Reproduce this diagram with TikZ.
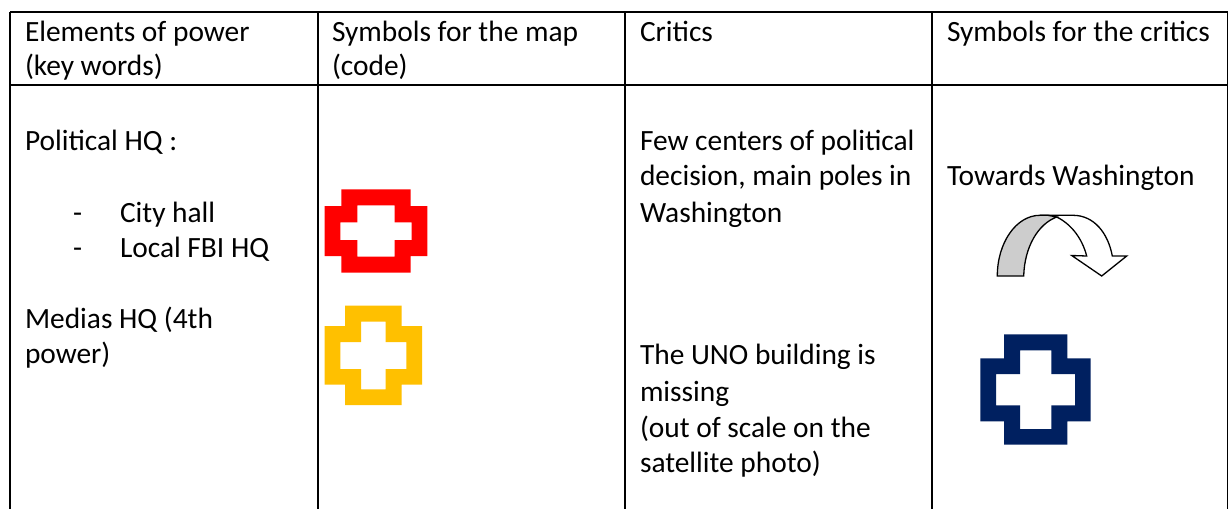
\documentclass[tikz,border=0pt]{standalone}
\usepackage{fontspec}
\setmainfont{Carlito}
\definecolor{crossred}{HTML}{FF0000}
\definecolor{crossyellow}{HTML}{FFC000}
\definecolor{crossnavy}{HTML}{002060}
\definecolor{arrowgray}{HTML}{CDCDCD}
\tikzset{
  rule/.style={line width=2pt,black},
  txt/.style={anchor=base west,inner sep=0pt,outer sep=0pt,font=\fontsize{29.4pt}{35pt}\selectfont,text=black},
  crossfill/.style={even odd rule,draw=none},
  arrowline/.style={draw=black,line width=1.3pt,line join=miter}
}
\newcommand{\crossshape}[8]{% outer x0 x1 x2 x3, y0 y1 y2 y3
  (#1,#6) -- (#2,#6) -- (#2,#5) -- (#3,#5) -- (#3,#6) -- (#4,#6) -- (#4,#7) -- (#3,#7) -- (#3,#8) -- (#2,#8) -- (#2,#7) -- (#1,#7) -- cycle}
\begin{document}
\begin{tikzpicture}[x=1pt,y=-1pt]
\useasboundingbox (0,0) rectangle (1228,509);
\fill[white] (0,0) rectangle (1228,509);
% table rules
\coordinate (tl) at (10,12); \coordinate (tr) at (1228,12);
\coordinate (hl) at (10,84.5); \coordinate (hr) at (1228,84.5);
\coordinate (v0b) at (10,509); \coordinate (v1t) at (318,12); \coordinate (v1b) at (318,509);
\coordinate (v2t) at (625,12); \coordinate (v2b) at (625,509);
\coordinate (v3t) at (932,12); \coordinate (v3b) at (932,509);
\coordinate (v4t) at (1227.5,12); \coordinate (v4b) at (1227.5,509);
\draw[rule] (tl) -- (tr);
\draw[rule] (hl) -- (hr);
\draw[rule] (tl) -- (v0b);
\draw[rule] (v1t) -- (v1b);
\draw[rule] (v2t) -- (v2b);
\draw[rule] (v3t) -- (v3b);
\draw[rule] (v4t) -- (v4b);
% header
\node[txt] (h1a) at (25,41.5) {Elements of power};
\node[txt] (h1b) at (25,75) {(key words)};
\node[txt] (h2a) at (332,41.5) {Symbols for the map};
\node[txt] (h2b) at (332,75) {(code)};
\node[txt] (h3) at (640,41.5) {Critics};
\node[txt] (h4) at (947,41.5) {Symbols for the critics};
% column 1
\node[txt] (c1a) at (25,150) {Political HQ :};
\node[txt] (c1b) at (73,222) {-};
\node[txt] (c1c) at (120,222) {City hall};
\node[txt] (c1d) at (73,257) {-};
\node[txt] (c1e) at (120,257) {Local FBI HQ};
\node[txt] (c1f) at (25,328) {Medias HQ (4th};
\node[txt] (c1g) at (25,363) {power)};
% column 3
\node[txt] (c3a) at (640,150) {Few centers of political};
\node[txt] (c3b) at (640,185) {decision, main poles in};
\node[txt] (c3c) at (640,222) {Washington};
\node[txt] (c3d) at (640,364) {The UNO building is};
\node[txt] (c3e) at (640,401) {missing};
\node[txt] (c3f) at (640,437) {(out of scale on the};
\node[txt] (c3g) at (640,472) {satellite photo)};
% column 4
\node[txt] (c4a) at (947,185) {Towards Washington};
% crosses
\fill[crossred,crossfill] \crossshape{324.7}{341.3}{410.7}{427.3}{189.3}{206}{256}{272.7}
  \crossshape{340.3}{357.3}{394.7}{411.7}{205.3}{222.3}{240}{256.7};
\fill[crossyellow,crossfill] \crossshape{324.7}{345}{401.7}{422}{305.7}{326}{384.7}{405}
  \crossshape{340.3}{361}{385.7}{406.3}{321.7}{342}{369}{389.3};
\fill[crossnavy,crossfill] \crossshape{980.3}{1004}{1067.3}{1090.7}{334.3}{358.3}{421.3}{444.7}
  \crossshape{996}{1020}{1051.3}{1075}{350.3}{374}{405.3}{429};
% curved arrow
\path[arrowline,fill=white]
  (1040,215.3) -- (1073,215.3)
  .. controls (1094,215.3) and (1108,233) .. (1112.3,256)
  -- (1126.7,256) -- (1101.7,276) -- (1071.7,255.5) -- (1086.7,256)
  .. controls (1082,238) and (1071,224) .. (1056.7,217)
  -- cycle;
\path[arrowline,fill=arrowgray]
  (997.3,276) .. controls (997.3,243) and (1016,215.3) .. (1040,215.3)
  -- (1048,215.3) -- (1056.7,217)
  .. controls (1038,224) and (1024.5,247) .. (1023.7,276)
  -- cycle;
\end{tikzpicture}
\end{document}
